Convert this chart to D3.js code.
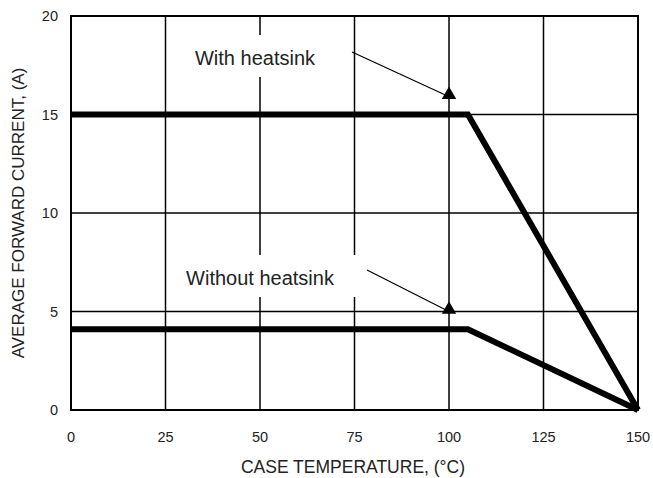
<!DOCTYPE html>
<html><head><meta charset="utf-8">
<script src="https://cdn.jsdelivr.net/npm/d3@7"></script>
<style>body{margin:0;background:#fff}svg{display:block}text{font-family:"Liberation Sans",Arial,sans-serif;fill:#222}</style>
</head><body><svg id="c" width="653" height="478"></svg>
<script>
const xTicks=[0,25,50,75,100,125,150];
const yTicks=[0,5,10,15,20];
const withHeatsink=[[0,15],[105,15],[150,0]];
const withoutHeatsink=[[0,4.1],[105,4.1],[150,0]];
const markers=[[100,16.0],[100,5.1]];
const labels=["With heatsink","Without heatsink"];

const svg=d3.select("#c");
const x=d3.scaleLinear().domain([0,150]).range([71,638]);
const y=d3.scaleLinear().domain([0,20]).range([410,16]);

// grid
svg.append("g").selectAll("line").data(xTicks).join("line")
 .attr("x1",d=>x(d)).attr("x2",d=>x(d)).attr("y1",y(0)).attr("y2",y(20))
 .attr("stroke","#000").attr("stroke-width",1.5);
svg.append("g").selectAll("line").data(yTicks).join("line")
 .attr("x1",x(0)).attr("x2",x(150)).attr("y1",d=>y(d)).attr("y2",d=>y(d))
 .attr("stroke","#000").attr("stroke-width",1.5);
svg.append("rect").attr("x",x(0)).attr("y",y(20)).attr("width",x(150)-x(0)).attr("height",y(0)-y(20))
 .attr("fill","none").attr("stroke","#000").attr("stroke-width",2);

// tick labels
svg.append("g").selectAll("text").data(yTicks).join("text")
 .attr("x",58).attr("y",d=>y(d)+5).attr("text-anchor","end").attr("font-size",14.5).text(d=>d);
svg.append("g").selectAll("text").data(xTicks).join("text")
 .attr("x",d=>x(d)).attr("y",442).attr("text-anchor","middle").attr("font-size",14.5).text(d=>d);

// axis titles
svg.append("text").attr("x",353).attr("y",473).attr("text-anchor","middle").attr("font-size",17.5).text("CASE TEMPERATURE, (°C)");
svg.append("text").attr("transform","translate(24,213) rotate(-90)").attr("text-anchor","middle").attr("font-size",17).text("AVERAGE FORWARD CURRENT, (A)");

// label boxes
const boxes=[{bx0:176,bx1:346,by:35,tx:255,ty:65},{bx0:176,bx1:362,by:255,tx:260,ty:285}];
boxes.forEach((b,i)=>{
 svg.append("rect").attr("x",b.bx0).attr("y",b.by).attr("width",b.bx1-b.bx0).attr("height",42).attr("fill","#fff");
 svg.append("text").attr("x",b.tx).attr("y",b.ty).attr("text-anchor","middle").attr("font-size",20).text(labels[i]);
});

// data lines
const line=d3.line().x(d=>x(d[0])).y(d=>y(d[1]));
[withHeatsink,withoutHeatsink].forEach(s=>{
 svg.append("path").attr("d",line(s)).attr("fill","none").attr("stroke","#000").attr("stroke-width",6).attr("stroke-linejoin","miter");
});

// annotation lines & markers
const starts=[[352,52],[367,270]];
markers.forEach((m,i)=>{
 svg.append("line").attr("x1",starts[i][0]).attr("y1",starts[i][1]).attr("x2",x(m[0])-2).attr("y2",y(m[1])+1)
  .attr("stroke","#000").attr("stroke-width",1.2);
 svg.append("path").attr("transform",`translate(${x(m[0])},${y(m[1])})`)
  .attr("d",d3.symbol(d3.symbolTriangle,90)()).attr("fill","#000");
});
</script></body></html>
